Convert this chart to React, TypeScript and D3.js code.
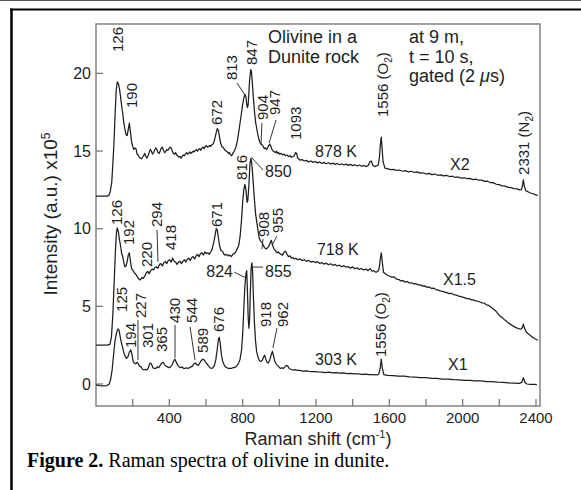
import React from "react";
import * as d3 from "d3";

// ---------- data ----------
const xTickValues = [200, 400, 600, 800, 1000, 1200, 1400, 1600, 1800, 2000, 2200, 2400];
const xTickLabels = [400, 800, 1200, 1600, 2000, 2400];
const yTickValues = [0, 5, 10, 15, 20];

// 303 K spectrum (X1)
const spectrum303K: [number, number][] = [
  [0,-0.05],[20,-0.1],[40,-0.12],[60,-0.1],[72,0.0],[80,0.3],[88,0.9],[96,1.9],[104,2.8],[112,3.3],[120,3.55],[126,3.45],
  [134,2.9],[142,2.5],[150,2.1],[158,1.8],[166,1.65],[174,1.75],[182,2.05],[190,2.2],[196,1.9],[202,1.5],[208,1.35],
  [216,1.3],[224,1.4],[230,1.3],[238,1.15],[246,1.1],[254,0.95],[262,0.9],[270,0.95],[278,0.9],[286,1.05],[294,1.35],
  [302,1.3],[310,1.05],[318,1.0],[326,1.0],[334,1.1],[342,1.05],[350,1.2],[358,1.35],[366,1.4],[374,1.25],[382,1.15],
  [390,1.1],[398,1.05],[406,1.1],[414,1.2],[422,1.45],[430,1.6],[438,1.4],[446,1.2],[454,1.1],[462,1.05],[470,1.1],
  [478,1.0],[486,1.0],[494,1.05],[502,1.0],[510,1.05],[518,1.1],[526,1.15],[534,1.3],[542,1.35],[550,1.25],[558,1.2],
  [566,1.35],[574,1.5],[582,1.6],[590,1.55],[598,1.4],[606,1.3],[614,1.15],[622,1.05],[630,1.0],[638,1.05],[646,1.2],
  [654,1.6],[662,2.3],[668,2.9],[672,3.0],[678,2.6],[684,1.9],[690,1.5],[698,1.25],[706,1.1],[714,1.05],[722,1.0],
  [730,1.0],[738,1.0],[746,1.05],[754,1.05],[762,1.1],[770,1.2],[778,1.35],[786,1.6],[794,2.2],[800,3.2],[806,4.8],
  [812,6.3],[818,7.1],[822,7.3],[826,6.0],[830,4.3],[834,3.6],[838,4.2],[842,6.0],[846,7.4],[850,7.8],[854,7.3],
  [858,5.8],[864,4.0],[870,2.8],[876,2.1],[884,1.7],[892,1.5],[900,1.45],[908,1.55],[914,1.75],[920,1.85],[926,1.6],
  [932,1.4],[940,1.35],[948,1.55],[956,1.9],[962,2.1],[968,1.85],[974,1.5],[982,1.3],[990,1.2],[998,1.1],[1006,1.0],
  [1014,1.05],[1022,1.0],[1030,1.1],[1038,1.2],[1046,1.15],[1054,1.0],[1062,0.95],[1074,0.9],[1086,0.93],[1098,0.87],
  [1110,0.88],[1130,0.83],[1150,0.85],[1170,0.79],[1190,0.8],[1210,0.78],[1230,0.77],[1250,0.74],[1270,0.76],[1290,0.72],
  [1310,0.73],[1330,0.7],[1350,0.71],[1370,0.67],[1390,0.68],[1410,0.65],[1430,0.66],[1450,0.62],[1470,0.63],[1490,0.6],
  [1510,0.61],[1530,0.58],[1542,0.62],[1550,1.0],[1556,1.6],[1562,1.0],[1570,0.6],[1590,0.55],[1620,0.54],[1650,0.5],
  [1680,0.5],[1710,0.46],[1740,0.45],[1770,0.41],[1800,0.41],[1830,0.37],[1860,0.36],[1890,0.32],[1920,0.31],[1950,0.28],
  [1980,0.27],[2010,0.24],[2040,0.23],[2070,0.2],[2100,0.2],[2130,0.16],[2160,0.15],[2190,0.12],[2220,0.11],[2250,0.08],
  [2280,0.06],[2310,0.04],[2322,0.1],[2331,0.4],[2340,0.1],[2350,0.0],[2370,-0.02],[2390,-0.03],[2405,-0.04]
];

// 718 K spectrum (X1.5)
const spectrum718K: [number, number][] = [
  [0,2.5],[30,2.5],[60,2.5],[76,2.55],[84,3.0],[92,4.5],[100,6.8],[106,8.6],[112,9.8],[116,10.05],[122,9.8],[128,9.3],
  [134,8.9],[140,8.4],[146,8.2],[152,7.8],[158,7.55],[164,7.6],[170,7.9],[176,8.3],[182,8.45],[188,7.9],[194,7.45],
  [202,7.3],[210,7.15],[218,7.05],[226,6.9],[234,6.75],[242,6.7],[250,6.85],[258,6.8],[266,6.95],[274,7.15],[282,7.25],
  [290,7.1],[298,7.3],[306,7.4],[314,7.35],[322,7.5],[330,7.55],[338,7.45],[346,7.7],[354,7.75],[362,7.6],[370,7.8],
  [378,7.9],[386,7.75],[394,7.95],[402,8.0],[410,7.85],[418,8.1],[426,7.9],[434,7.85],[442,7.7],[450,7.85],[458,7.9],
  [466,7.75],[474,7.9],[482,8.0],[490,7.85],[498,8.05],[506,8.1],[514,7.95],[522,8.15],[530,8.2],[538,8.05],[546,8.25],
  [554,8.35],[562,8.2],[570,8.4],[578,8.45],[586,8.3],[594,8.5],[602,8.4],[610,8.45],[618,8.35],[626,8.5],[634,8.7],
  [642,9.1],[650,9.6],[656,10.0],[662,9.9],[668,9.4],[674,8.9],[682,8.6],[690,8.55],[698,8.35],[706,8.3],[714,8.35],
  [722,8.25],[730,8.3],[738,8.2],[746,8.35],[754,8.4],[762,8.5],[770,8.7],[778,8.9],[786,9.5],[794,10.6],[800,11.7],
  [806,12.5],[812,12.85],[818,12.5],[824,11.7],[828,11.8],[834,12.8],[840,14.2],[846,14.55],[852,13.9],[858,12.9],
  [864,11.9],[870,11.0],[876,10.5],[882,10.0],[890,9.4],[898,9.2],[906,9.1],[912,8.95],[918,8.8],[926,8.7],[934,8.75],
  [942,8.85],[950,9.1],[956,9.25],[962,9.0],[970,8.7],[978,8.6],[986,8.45],[994,8.5],[1002,8.4],[1010,8.35],[1018,8.3],
  [1026,8.5],[1034,8.55],[1042,8.35],[1050,8.2],[1058,8.25],[1066,8.1],[1074,8.15],[1082,8.05],[1090,8.1],[1100,8.0],
  [1112,8.06],[1124,7.95],[1136,8.0],[1148,7.9],[1160,7.96],[1172,7.85],[1184,7.9],[1196,7.82],[1208,7.88],[1220,7.76],
  [1232,7.82],[1244,7.72],[1256,7.78],[1268,7.68],[1280,7.74],[1292,7.64],[1304,7.7],[1316,7.6],[1328,7.65],[1340,7.55],
  [1352,7.62],[1364,7.52],[1376,7.56],[1388,7.46],[1400,7.54],[1412,7.42],[1424,7.48],[1436,7.38],[1448,7.44],[1460,7.34],
  [1472,7.4],[1484,7.3],[1496,7.42],[1506,7.26],[1516,7.3],[1526,7.2],[1536,7.24],[1544,7.4],[1550,8.0],[1556,8.45],
  [1562,7.8],[1568,7.2],[1578,7.1],[1590,7.0],[1602,6.94],[1614,6.88],[1626,6.9],[1638,6.76],[1650,6.74],[1662,6.64],
  [1674,6.66],[1686,6.56],[1698,6.6],[1710,6.5],[1722,6.52],[1734,6.44],[1746,6.46],[1758,6.38],[1770,6.38],[1782,6.3],
  [1794,6.32],[1806,6.22],[1818,6.25],[1830,6.15],[1842,6.17],[1854,6.08],[1866,6.05],[1878,6.0],[1890,5.96],[1902,5.92],
  [1914,5.88],[1926,5.82],[1938,5.84],[1950,5.76],[1962,5.74],[1974,5.68],[1986,5.64],[1998,5.6],[2010,5.56],[2022,5.5],
  [2034,5.5],[2046,5.42],[2058,5.42],[2070,5.35],[2082,5.33],[2094,5.28],[2106,5.22],[2118,5.2],[2130,5.1],[2142,5.06],
  [2154,4.96],[2166,4.85],[2178,4.74],[2190,4.56],[2202,4.4],[2214,4.28],[2226,4.16],[2238,4.05],[2250,3.92],[2262,3.84],
  [2274,3.74],[2286,3.66],[2298,3.6],[2310,3.55],[2320,3.54],[2326,3.65],[2331,3.85],[2337,3.6],[2346,3.36],[2356,3.25],
  [2366,3.15],[2376,3.05],[2386,2.98],[2396,2.9],[2410,2.82]
];

// 878 K spectrum (X2)
const spectrum878K: [number, number][] = [
  [0,12.1],[30,12.1],[60,12.1],[70,12.15],[78,12.4],[86,13.0],[92,14.2],[98,15.5],[104,17.3],[110,18.9],[116,19.45],
  [122,19.35],[128,19.0],[134,18.5],[140,17.9],[146,17.4],[152,16.8],[158,16.4],[164,16.05],[170,16.0],[176,16.4],
  [182,16.8],[188,16.2],[194,15.6],[200,15.3],[206,15.1],[212,15.2],[218,15.15],[224,14.8],[230,14.75],[236,14.6],
  [242,14.55],[248,14.5],[254,14.6],[260,14.7],[266,14.85],[272,14.65],[278,14.55],[284,14.7],[290,14.9],[296,15.1],
  [302,15.0],[308,14.8],[314,14.9],[320,15.05],[326,15.2],[332,15.1],[338,14.9],[344,14.85],[350,15.0],[356,15.2],
  [362,15.25],[368,15.05],[374,14.9],[380,14.95],[386,15.1],[392,15.05],[398,15.15],[404,15.25],[410,15.2],[416,15.0],
  [422,14.85],[428,14.8],[434,14.9],[440,14.75],[446,14.7],[452,14.6],[458,14.65],[464,14.55],[470,14.65],[476,14.75],
  [482,14.7],[488,14.8],[494,14.9],[500,14.8],[506,14.85],[512,14.95],[518,14.85],[524,14.9],[530,15.0],[536,14.95],
  [542,15.05],[548,15.1],[554,15.0],[560,15.1],[566,15.15],[572,15.05],[578,15.2],[584,15.25],[590,15.15],[596,15.3],
  [602,15.35],[608,15.25],[614,15.3],[620,15.35],[626,15.3],[632,15.4],[638,15.45],[644,15.6],[650,15.9],[656,16.2],
  [662,16.45],[668,16.3],[674,15.9],[680,15.5],[686,15.3],[692,15.25],[698,15.15],[704,15.05],[710,15.0],[716,14.95],
  [722,14.85],[728,14.9],[734,14.75],[740,14.7],[746,14.85],[752,14.95],[758,15.1],[764,15.3],[770,15.6],[776,16.0],
  [782,16.5],[788,17.0],[794,17.5],[800,18.0],[806,18.4],[812,18.65],[818,18.5],[822,18.0],[826,17.8],[830,18.0],
  [834,18.8],[838,19.6],[844,20.25],[848,20.1],[852,19.5],[858,18.5],[864,17.6],[870,16.9],[876,16.5],[882,16.1],
  [888,15.8],[894,15.55],[900,15.45],[906,15.4],[912,15.3],[918,15.15],[924,15.2],[930,15.1],[936,15.2],[942,15.35],
  [948,15.45],[954,15.3],[960,15.1],[966,15.0],[972,14.95],[978,14.9],[984,15.0],[990,14.85],[996,14.9],[1002,14.8],
  [1010,14.85],[1018,14.75],[1026,14.8],[1034,14.7],[1042,14.75],[1050,14.65],[1058,14.7],[1066,14.6],[1074,14.65],
  [1082,14.7],[1088,14.9],[1094,14.85],[1100,14.55],[1112,14.42],[1124,14.45],[1136,14.36],[1148,14.4],[1160,14.3],
  [1172,14.36],[1184,14.27],[1196,14.33],[1208,14.24],[1220,14.3],[1232,14.2],[1244,14.27],[1256,14.18],[1268,14.25],
  [1280,14.16],[1292,14.22],[1304,14.14],[1316,14.2],[1328,14.12],[1340,14.18],[1352,14.1],[1364,14.16],[1376,14.08],
  [1388,14.14],[1400,14.06],[1412,14.12],[1424,14.04],[1436,14.1],[1448,14.02],[1460,14.08],[1472,14.0],[1484,14.06],
  [1494,14.3],[1502,14.35],[1510,14.08],[1520,14.0],[1530,14.04],[1540,14.1],[1546,14.6],[1551,15.4],[1556,15.9],
  [1561,15.1],[1566,14.3],[1576,13.9],[1592,13.85],[1608,13.8],[1624,13.82],[1640,13.75],[1656,13.78],[1672,13.7],
  [1688,13.74],[1704,13.66],[1720,13.7],[1736,13.62],[1752,13.66],[1768,13.58],[1784,13.6],[1800,13.52],[1816,13.56],
  [1832,13.48],[1848,13.52],[1864,13.44],[1880,13.47],[1896,13.4],[1912,13.43],[1928,13.36],[1944,13.38],[1960,13.3],
  [1976,13.33],[1992,13.26],[2008,13.28],[2024,13.22],[2040,13.24],[2056,13.16],[2072,13.19],[2088,13.12],[2104,13.13],
  [2120,13.05],[2136,13.06],[2152,12.96],[2168,12.95],[2184,12.86],[2200,12.84],[2216,12.75],[2232,12.74],[2248,12.66],
  [2264,12.65],[2280,12.58],[2296,12.56],[2310,12.5],[2320,12.52],[2326,12.75],[2331,13.15],[2337,12.7],[2344,12.45],
  [2356,12.38],[2370,12.3],[2384,12.25],[2398,12.18],[2410,12.15]
];

// rotated peak labels: [text, subscript, tail, shift, intensity]
const rotatedLabels: [string, string, string, number, number][] = [
  ["126", "", "", 120, 21.38], ["190", "", "", 196, 17.77], ["672", "", "", 660, 16.68], ["813", "", "", 742, 19.57],
  ["847", "", "", 848, 20.54], ["904", "", "", 911, 17.0], ["947", "", "", 976, 17.32], ["1093", "", "", 1091, 15.71],
  ["1556 (O", "2", ")", 1565, 17.19], ["2331 (N", "2", ")", 2335, 13.46],
  ["126", "", "", 115, 10.24], ["192", "", "", 180, 8.95], ["220", "", "", 278, 7.53], ["294", "", "", 333, 10.11],
  ["418", "", "", 409, 8.63], ["671", "", "", 660, 10.11], ["816", "", "", 796, 13.14], ["908", "", "", 916, 9.47],
  ["955", "", "", 993, 9.72],
  ["125", "", "", 142, 4.64], ["194", "", "", 191, 2.32], ["227", "", "", 245, 4.25], ["301", "", "", 284, 2.32],
  ["365", "", "", 360, 2.06], ["430", "", "", 431, 3.93], ["544", "", "", 524, 3.93], ["589", "", "", 584, 2.0],
  ["676", "", "", 671, 3.35], ["918", "", "", 927, 3.67], ["962", "", "", 1020, 3.67], ["1556 (O", "2", ")", 1555, 1.74]
];

// horizontal labels: [text, shift, intensity, anchor]
const flatLabels: [string, number, number, string][] = [
  ["878 K", 1195, 14.62, "start"], ["X2", 1931, 13.78, "start"], ["850", 922, 13.33, "start"],
  ["718 K", 1205, 8.31, "start"], ["X1.5", 1893, 6.37, "start"], ["824", 747, 6.89, "end"],
  ["855", 922, 6.89, "start"], ["303 K", 1195, 1.22, "start"], ["X1", 1920, 0.9, "start"]
];

// leader lines: [shift1, int1, shift2, int2]
const leaderLines: [number, number, number, number][] = [
  [769, 19.38, 813, 18.61], [905, 16.81, 900, 15.39], [982, 17.0, 944, 15.52],
  [333, 9.92, 338, 7.86], [851, 14.55, 911, 13.78], [911, 9.34, 905, 8.69], [987, 9.53, 960, 8.95],
  [229, 4.12, 229, 1.55], [431, 3.8, 431, 1.67], [513, 3.67, 540, 1.55], [987, 3.6, 965, 2.32],
  [753, 7.21, 818, 6.83], [851, 7.53, 911, 7.53]
];

const noteLeft = ["Olivine in a", "Dunite rock"];
const noteRight = ["at 9 m,", "t = 10 s,"];

// ---------- chart ----------
const W = 581;
const H = 490;
const SANS = "'Liberation Sans', Arial, Helvetica, sans-serif";
const SERIF = "'Liberation Serif', 'Times New Roman', serif";
const INK = "#1e1e1e";
const FRAME = "#7a7a7a";

export default function App() {
  const x = d3.scaleLinear().domain([0, 2400]).range([96, 536]);
  const y = d3.scaleLinear().domain([0, 20]).range([384, 73.4]);
  const left = 96, right = 540, top = 24, bottom = 406;
  const line = d3.line<[number, number]>().x(d => x(d[0])).y(d => y(d[1]));

  return (
    <svg width={W} height={H} style={{ position: "absolute", left: 0, top: 0, background: "#fff" }}
      fontFamily={SANS}>
      <rect x={0} y={0} width={W} height={H} fill="#fff" />
      {/* outer page frame */}
      <line x1={0} x2={W} y1={0.5} y2={0.5} stroke="#555" strokeWidth={1} />
      <line x1={10} x2={W} y1={9.5} y2={9.5} stroke="#000" strokeWidth={2} />
      <line x1={11.5} x2={11.5} y1={8.5} y2={H} stroke="#000" strokeWidth={2.5} />

      {/* plot frame */}
      <rect x={left} y={top} width={right - left} height={bottom - top} fill="none" stroke={FRAME} strokeWidth={1.4} />
      {xTickValues.map(t => (
        <line key={"xt" + t} x1={x(t)} x2={x(t)} y1={bottom} y2={bottom - 7} stroke={FRAME} strokeWidth={1.3} />
      ))}
      {yTickValues.map(t => (
        <line key={"yt" + t} x1={left} x2={left + 7} y1={y(t)} y2={y(t)} stroke={FRAME} strokeWidth={1.3} />
      ))}
      {xTickLabels.map(t => (
        <text key={"xl" + t} x={x(t)} y={423} textAnchor="middle" fontSize={15} fill={INK}>{t}</text>
      ))}
      {yTickValues.map(t => (
        <text key={"yl" + t} x={91} y={y(t)} dy="0.35em" textAnchor="end" fontSize={16} fill={INK}>{t}</text>
      ))}

      {/* axis titles */}
      <text x={318} y={445} textAnchor="middle" fontSize={18} fill={INK}>
        Raman shift (cm<tspan dy={-7} fontSize={11}>-1</tspan><tspan dy={7}>)</tspan>
      </text>
      <text transform="translate(50,214) rotate(-90)" dy="0.35em" textAnchor="middle" fontSize={19} fill={INK}>
        Intensity (a.u.) x10<tspan dy={-7} fontSize={12}>5</tspan>
      </text>

      {/* spectra */}
      {[spectrum303K, spectrum718K, spectrum878K].map((s, i) => (
        <path key={"sp" + i} d={line(s) || ""} fill="none" stroke={INK} strokeWidth={1.25} strokeLinejoin="round" />
      ))}

      {/* leaders */}
      {leaderLines.map((l, i) => (
        <line key={"ld" + i} x1={x(l[0])} y1={y(l[1])} x2={x(l[2])} y2={y(l[3])} stroke={INK} strokeWidth={0.9} />
      ))}

      {/* peak labels */}
      {rotatedLabels.map((l, i) => (
        <text key={"rl" + i} transform={`translate(${x(l[3])},${y(l[4])}) rotate(-90)`} dy="0.35em"
          fontSize={15} fill={INK}>
          {l[0]}
          {l[1] ? <tspan dy={4} fontSize={10}>{l[1]}</tspan> : null}
          {l[2] ? <tspan dy={-4}>{l[2]}</tspan> : null}
        </text>
      ))}
      {flatLabels.map((l, i) => (
        <text key={"fl" + i} x={x(l[1])} y={y(l[2])} textAnchor={l[3]} fontSize={16} fill={INK}>{l[0]}</text>
      ))}

      {/* notes */}
      {noteLeft.map((t, i) => (
        <text key={"nl" + i} x={268} y={43 + i * 19.5} fontSize={18} fill={INK}>{t}</text>
      ))}
      {noteRight.map((t, i) => (
        <text key={"nr" + i} x={409} y={43 + i * 19.5} fontSize={18} fill={INK}>{t}</text>
      ))}
      <text x={409} y={82} fontSize={18} fill={INK}>gated (2 <tspan fontStyle="italic">μ</tspan>s)</text>

      {/* caption */}
      <text x={27} y={467} fontFamily={SERIF} fontSize={20} fill="#000">
        <tspan fontWeight="bold">Figure 2.</tspan>{" Raman spectra of olivine in dunite."}
      </text>
    </svg>
  );
}
